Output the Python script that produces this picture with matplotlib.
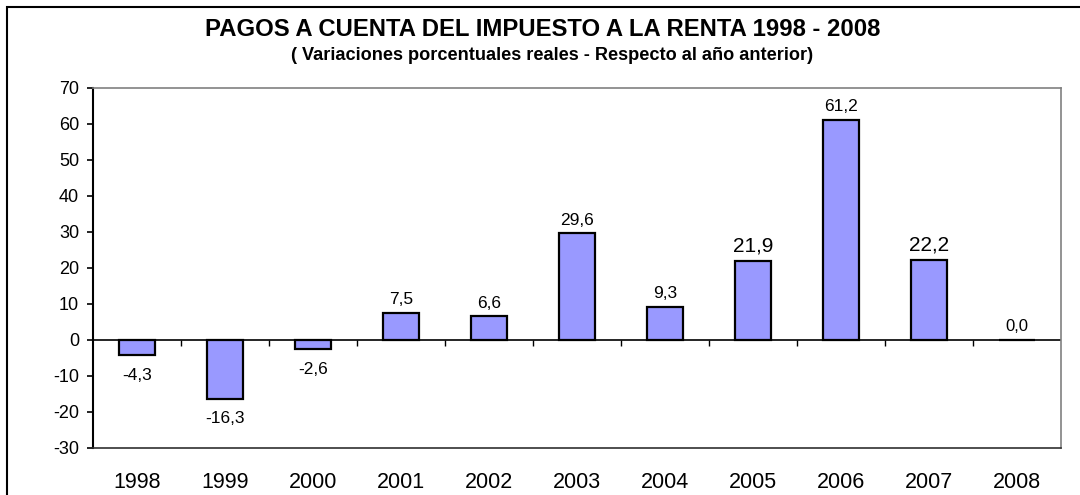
import matplotlib
matplotlib.use("Agg")
import matplotlib.pyplot as plt
from matplotlib.patches import Rectangle
import numpy as np

years = ['1998', '1999', '2000', '2001', '2002', '2003', '2004', '2005', '2006', '2007', '2008']
variations = [-4.3, -16.3, -2.6, 7.5, 6.6, 29.6, 9.3, 21.9, 61.2, 22.2, 0.0]
label_sizes = [12.5, 12.5, 12.5, 12.5, 12.5, 12.5, 12.5, 15, 12.5, 15, 12]

title = 'PAGOS A CUENTA DEL IMPUESTO A LA RENTA 1998 - 2008'
subtitle = '( Variaciones porcentuales reales - Respecto al año anterior)'

plt.rcParams['font.family'] = ['Liberation Sans', 'DejaVu Sans']
plt.rcParams['axes.unicode_minus'] = False

fig = plt.figure(figsize=(10.8, 4.95), dpi=100)
ax = fig.add_axes([93 / 1080, 1 - 448 / 495, (1061 - 93) / 1080, (448 - 88) / 495])

# outer frame of the chart object (runs off the bottom/right of the image)
fig.patches.append(Rectangle((7 / 1080, -0.2), 2, 1 - 7 / 495 + 0.2,
                             transform=fig.transFigure, fill=False,
                             edgecolor='black', linewidth=1.5))

x = np.arange(len(years))
ax.bar(x, variations, width=0.41, color='#9999FF', edgecolor='black', linewidth=1.6, zorder=3)
ax.axhline(0, color='black', linewidth=1.2, zorder=2)

for xi, v, fs in zip(x, variations, label_sizes):
    txt = f'{v:.1f}'.replace('.', ',')
    if v < 0:
        ax.annotate(txt, (xi, v), xytext=(0, -9), textcoords='offset points',
                    ha='center', va='top', fontsize=fs)
    else:
        ax.annotate(txt, (xi, v), xytext=(0, 4), textcoords='offset points',
                    ha='center', va='bottom', fontsize=fs)

ax.set_xlim(-0.5, len(years) - 0.5)
ax.set_ylim(-30, 70)
ax.set_yticks(range(-30, 71, 10))
ax.set_xticks(x)
ax.set_xticklabels(years, fontsize=15.5)
ax.tick_params(axis='x', length=0, pad=17)
ax.tick_params(axis='y', direction='out', length=4, width=1.2, pad=6, labelsize=13)

# tick marks between categories sitting on the zero line
sec = ax.secondary_xaxis(0.3)
sec.set_xticks(np.arange(0.5, len(years) - 0.5, 1))
sec.set_xticklabels([])
sec.tick_params(direction='out', length=4.5, width=1.0)
sec.spines['bottom'].set_visible(False)

ax.spines['left'].set_color('black')
ax.spines['left'].set_linewidth(1.5)
ax.spines['bottom'].set_color('#303030')
ax.spines['bottom'].set_linewidth(1.2)
for s in ['top', 'right']:
    ax.spines[s].set_color('#808080')
    ax.spines[s].set_linewidth(1.2)

fig.text(543 / 1080, 1 - 30 / 495, title, ha='center', va='center', fontsize=17.2, fontweight='bold')
fig.text(552 / 1080, 1 - 55 / 495, subtitle, ha='center', va='center', fontsize=13.1, fontweight='bold')

fig.savefig('out.png', dpi=100)
